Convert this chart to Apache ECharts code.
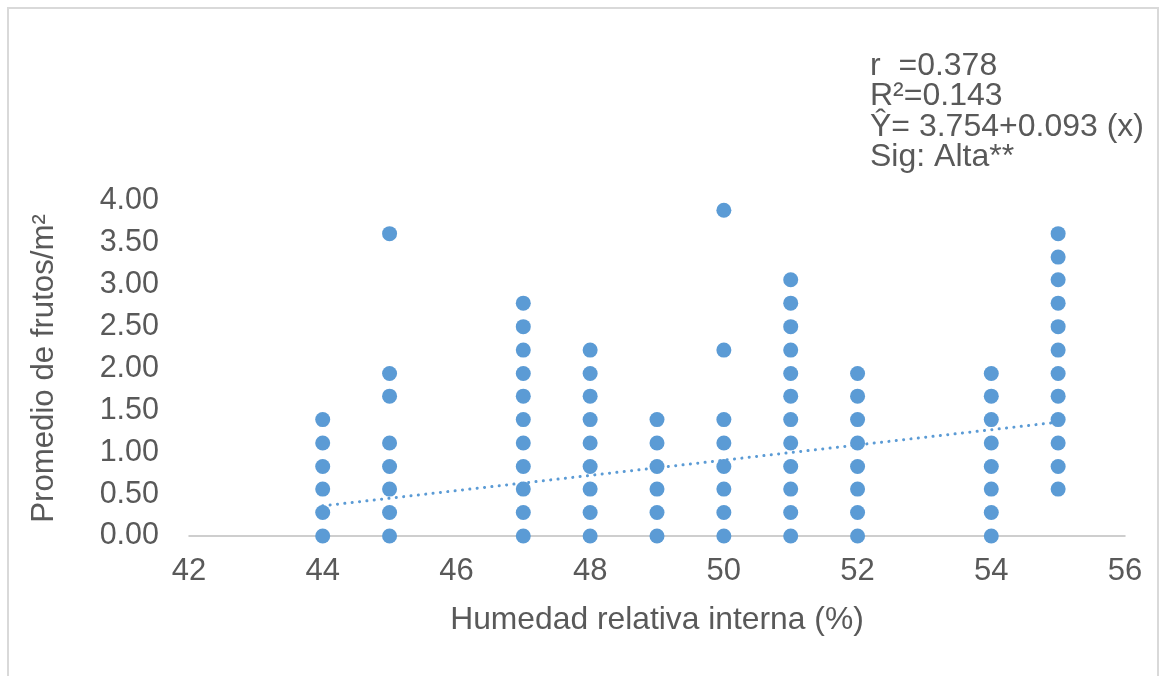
<!DOCTYPE html>
<html>
<head>
<meta charset="utf-8">
<script src="https://cdn.jsdelivr.net/npm/echarts@6/dist/echarts.min.js"></script>
<style>
html,body{margin:0;padding:0;background:#fff;}
#chart{width:1159px;height:676px;}
</style>
</head>
<body>
<div id="chart"></div>
<script>
// Humidity values (x) and the fruit averages observed at each one (y)
const humidity = [44, 45, 47, 48, 49, 50, 51, 52, 54, 55];
const frutos44 = [0, 0.28, 0.56, 0.83, 1.11, 1.39];
const frutos45 = [0, 0.28, 0.56, 0.83, 1.11, 1.67, 1.94, 3.61];
const frutos47 = [0, 0.28, 0.56, 0.83, 1.11, 1.39, 1.67, 1.94, 2.22, 2.50, 2.78];
const frutos48 = [0, 0.28, 0.56, 0.83, 1.11, 1.39, 1.67, 1.94, 2.22];
const frutos49 = [0, 0.28, 0.56, 0.83, 1.11, 1.39];
const frutos50 = [0, 0.28, 0.56, 0.83, 1.11, 1.39, 2.22, 3.89];
const frutos51 = [0, 0.28, 0.56, 0.83, 1.11, 1.39, 1.67, 1.94, 2.22, 2.50, 2.78, 3.06];
const frutos52 = [0, 0.28, 0.56, 0.83, 1.11, 1.39, 1.67, 1.94];
const frutos54 = [0, 0.28, 0.56, 0.83, 1.11, 1.39, 1.67, 1.94];
const frutos55 = [0.56, 0.83, 1.11, 1.39, 1.67, 1.94, 2.22, 2.50, 2.78, 3.06, 3.33, 3.61];
const frutosByHumidity = [frutos44, frutos45, frutos47, frutos48, frutos49, frutos50, frutos51, frutos52, frutos54, frutos55];

// Linear trend line end points
const trendX = [44, 55];
const trendY = [0.36, 1.36];

// Statistics annotation
const statsLines = ['r  =0.378', 'R²=0.143', 'Ŷ= 3.754+0.093 (x)', 'Sig: Alta**'];

const xTicks = {min: 42, max: 56, interval: 2};
const yTicks = {min: 0, max: 4, interval: 0.5};

const points = [];
humidity.forEach((h, i) => frutosByHumidity[i].forEach(v => points.push([h, v])));
const trend = trendX.map((x, i) => [x, trendY[i]]);

const textColor = '#595959';
const fontFamily = '"Liberation Sans", Arial, sans-serif';

const chart = echarts.init(document.getElementById('chart'));
chart.setOption({
  animation: false,
  backgroundColor: '#fff',
  grid: {left: 189, right: 34, top: 201, bottom: 140},
  xAxis: {
    type: 'value',
    min: xTicks.min, max: xTicks.max, interval: xTicks.interval,
    name: 'Humedad relativa interna (%)',
    nameLocation: 'middle',
    nameGap: 68,
    nameTextStyle: {color: textColor, fontSize: 31.8, fontFamily: fontFamily},
    axisLine: {show: true, lineStyle: {color: '#bfbfbf', width: 1.5}},
    axisTick: {show: false},
    splitLine: {show: false},
    axisLabel: {color: textColor, fontSize: 31, fontFamily: fontFamily, margin: 20}
  },
  yAxis: {
    type: 'value',
    min: yTicks.min, max: yTicks.max, interval: yTicks.interval,
    name: 'Promedio de frutos/m²',
    nameLocation: 'middle',
    nameGap: 129,
    nameRotate: 90,
    nameTextStyle: {color: textColor, fontSize: 31.2, fontFamily: fontFamily},
    axisLine: {show: false},
    axisTick: {show: false},
    splitLine: {show: false},
    axisLabel: {color: textColor, fontSize: 30.5, fontFamily: fontFamily, margin: 30,
      formatter: v => v.toFixed(2)}
  },
  series: [
    {
      type: 'line',
      data: trend,
      symbol: 'none',
      z: 3,
      lineStyle: {color: '#5B9BD5', width: 3, type: [0.1, 7.3], cap: 'round'}
    },
    {
      type: 'scatter',
      data: points,
      symbol: 'circle',
      symbolSize: 15,
      z: 2,
      itemStyle: {color: '#5B9BD5', opacity: 1}
    }
  ],
  graphic: [
    {
      type: 'rect',
      shape: {x: 8, y: 8, width: 1150, height: 700},
      style: {fill: 'none', stroke: '#d9d9d9', lineWidth: 2},
      silent: true
    },
    {
      type: 'text',
      left: 870,
      top: 50,
      style: {
        text: statsLines.join('\n'),
        fill: textColor,
        font: '32px ' + fontFamily,
        lineHeight: 30.5
      }
    }
  ]
});
</script>
</body>
</html>
